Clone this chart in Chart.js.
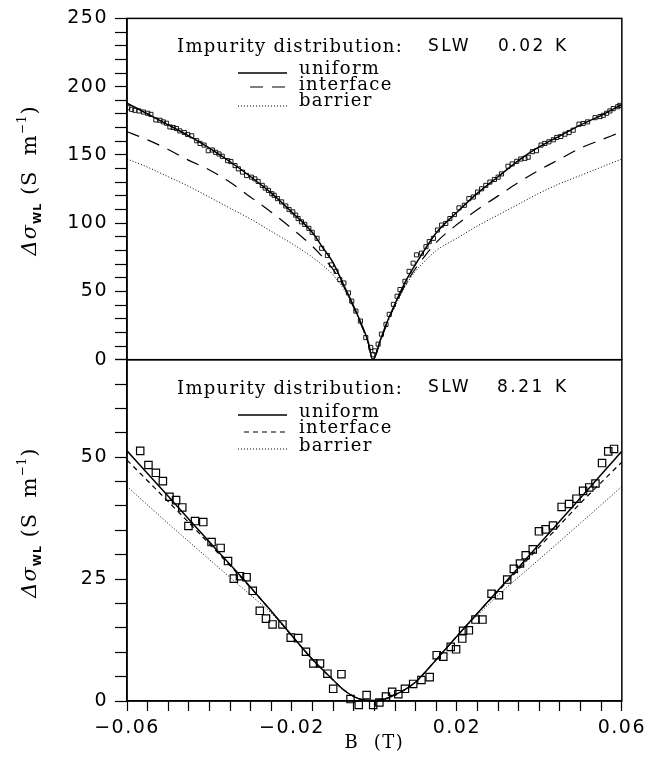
<!DOCTYPE html>
<html lang="en">
<head>
  <meta charset="UTF-8">
  <title>Weak localization magnetoconductance, SLW</title>
  <script src="https://cdn.jsdelivr.net/npm/chart.js"></script>
  <style>
    body {
      margin: 0;
      background: #fff;
    }
    #wrap {
      width: 652px;
      height: 763px;
    }
  </style>
</head>
<body>
  <div id="wrap">
    <canvas id="wl" width="652" height="763"></canvas>
  </div>

<script>
  // ---- upper panel, 0.02 K: measured points ----
  const topB = [-0.0598, -0.0589, -0.0581, -0.0571, -0.0560, -0.0550, -0.0542, -0.0530, -0.0520, -0.0512,
    -0.0504, -0.0496, -0.0488, -0.0480, -0.0472, -0.0461, -0.0453, -0.0443, -0.0431, -0.0423,
    -0.0413, -0.0403, -0.0393, -0.0385, -0.0377, -0.0369, -0.0356, -0.0348, -0.0338, -0.0330,
    -0.0320, -0.0310, -0.0298, -0.0290, -0.0282, -0.0272, -0.0265, -0.0257, -0.0249, -0.0243,
    -0.0235, -0.0225, -0.0215, -0.0207, -0.0198, -0.0191, -0.0185, -0.0177, -0.0169, -0.0159,
    -0.0151, -0.0139, -0.0128, -0.0114, -0.0104, -0.0093, -0.0084, -0.0074, -0.0063, -0.0055,
    -0.0045, -0.0034, -0.0021, -0.0009, -0.0004, 0.0001, 0.0009, 0.0017, 0.0028, 0.0036,
    0.0046, 0.0055, 0.0062, 0.0074, 0.0084, 0.0094, 0.0102, 0.0114, 0.0125, 0.0133,
    0.0143, 0.0153, 0.0163, 0.0173, 0.0183, 0.0194, 0.0205, 0.0218, 0.0229, 0.0240,
    0.0250, 0.0260, 0.0270, 0.0280, 0.0291, 0.0300, 0.0308, 0.0324, 0.0334, 0.0345,
    0.0355, 0.0365, 0.0373, 0.0383, 0.0393, 0.0404, 0.0413, 0.0423, 0.0434, 0.0442,
    0.0452, 0.0462, 0.0472, 0.0482, 0.0496, 0.0506, 0.0517, 0.0535, 0.0547, 0.0555,
    0.0563, 0.0571, 0.0579, 0.0590, 0.0595];
  const topV = [184.6, 183.4, 182.7, 182.2, 181.4, 180.5, 179.7, 175.6, 175.4, 174.2,
    173.2, 170.5, 170.1, 169.3, 167.6, 166.4, 165.0, 164.0, 160.4, 158.4,
    157.2, 153.1, 153.6, 151.9, 150.7, 149.0, 145.8, 145.1, 142.2, 139.8,
    137.4, 134.9, 133.7, 132.5, 130.6, 127.7, 125.7, 124.0, 121.6, 120.4,
    118.0, 115.6, 112.6, 110.0, 108.3, 105.9, 103.4, 101.0, 99.1, 96.2,
    93.3, 88.9, 81.6, 76.3, 69.5, 64.7, 58.6, 56.2, 48.9, 42.9,
    35.6, 28.3, 16.2, 9.0, 3.6, 6.5, 11.4, 18.7, 25.9, 33.2,
    40.5, 46.5, 51.4, 57.4, 64.7, 70.7, 76.8, 78.0, 82.8, 86.5,
    88.9, 95.0, 98.6, 99.8, 103.4, 106.3, 111.2, 113.1, 118.0, 119.2,
    122.8, 125.2, 127.7, 130.1, 132.0, 133.7, 136.1, 141.7, 143.4, 145.3,
    147.0, 147.5, 148.3, 152.4, 153.1, 157.2, 158.4, 159.6, 161.1, 162.8,
    163.5, 165.2, 166.4, 168.1, 172.5, 173.0, 174.2, 177.3, 178.1, 179.0,
    180.5, 182.2, 183.9, 185.3, 186.3];

  // upper panel model curves
  const topCurveB = [-0.06, -0.055, -0.05, -0.045, -0.04, -0.035, -0.03, -0.025, -0.02, -0.015, -0.0125,
    -0.01, -0.0075, -0.005, -0.003, -0.0015, -0.0004, 0.0015, 0.003, 0.005, 0.0075, 0.01,
    0.0125, 0.015, 0.02, 0.025, 0.03, 0.035, 0.04, 0.045, 0.05, 0.055, 0.06];
  const topUniform = [188, 180, 172, 164, 155, 145, 134, 122, 108, 93, 82,
    71, 55, 39, 25, 13, 0, 15, 27, 41, 57, 70,
    82, 93, 108, 122, 134, 146, 156, 164, 172, 179, 187];
  const topInterface = [167, 161, 154, 146, 139, 130, 119, 108, 96, 83, 75,
    66, 54, 38, 24, 12, 0, 14, 26, 40, 55, 67,
    77, 86, 99, 110, 120, 130, 139, 147, 155, 161, 167];
  const topBarrier = [147, 141, 134, 127, 119, 111, 103, 94, 85, 75, 69,
    62, 52, 38, 24, 12, 0, 14, 26, 39, 54, 65,
    73, 80, 89, 98, 106, 114, 122, 129, 135, 141, 147];

  // ---- lower panel, 8.21 K: measured points ----
  const botB = [-0.0568, -0.0548, -0.0530, -0.0513, -0.0497, -0.0481, -0.0466, -0.0451, -0.0435, -0.0415,
    -0.0395, -0.0373, -0.0355, -0.0341, -0.0326, -0.0310, -0.0295, -0.0278, -0.0263, -0.0247,
    -0.0223, -0.0203, -0.0185, -0.0166, -0.0148, -0.0132, -0.0114, -0.0100, -0.0080, -0.0058,
    -0.0038, -0.0019, -0.0003, 0.0012, 0.0028, 0.0043, 0.0058, 0.0074, 0.0094, 0.0114,
    0.0134, 0.0151, 0.0167, 0.0185, 0.0198, 0.0213, 0.0215, 0.0229, 0.0245, 0.0262,
    0.0284, 0.0302, 0.0322, 0.0338, 0.0353, 0.0367, 0.0384, 0.0399, 0.0415, 0.0433,
    0.0454, 0.0472, 0.0490, 0.0506, 0.0521, 0.0536, 0.0552, 0.0567, 0.0581];
  const botV = [51.3, 48.4, 46.8, 45.1, 41.9, 41.2, 39.7, 35.9, 36.9, 36.7,
    32.6, 31.4, 28.7, 25.1, 25.6, 25.4, 22.6, 18.5, 16.9, 15.7,
    15.7, 13.0, 12.9, 10.1, 7.7, 7.7, 5.6, 2.5, 5.5, 0.4,
    -0.8, 1.2, -0.8, -0.3, 0.9, 1.9, 1.4, 2.5, 3.5, 4.3,
    4.9, 9.4, 9.1, 11.1, 10.6, 12.8, 14.4, 14.5, 16.7, 16.7,
    22.0, 21.7, 24.9, 27.1, 28.2, 29.9, 31.1, 34.8, 35.2, 36.0,
    39.8, 40.4, 41.5, 43.1, 43.8, 44.6, 48.8, 51.2, 51.7];

  // lower panel model curves
  const botCurveB = [-0.06, -0.05, -0.04, -0.03, -0.025, -0.02, -0.015, -0.01, -0.0075, -0.005, -0.0025,
    0, 0.0025, 0.005, 0.0075, 0.01, 0.0125, 0.015, 0.02, 0.025, 0.03, 0.04, 0.05, 0.06];
  const botUniform = [51.3, 42.0, 32.6, 23.3, 18.4, 13.4, 8.5, 4.3, 2.3, 0.9, 0.2,
    0.1, 0.4, 1.3, 2.4, 3.9, 6.1, 8.5, 13.3, 18.0, 22.7, 32.2, 41.7, 51.2];
  const botInterface = [49.4, 40.9, 32.2, 23.2, 18.4, 13.4, 8.5, 4.3, 2.3, 0.9, 0.2,
    0.1, 0.4, 1.3, 2.4, 3.9, 6.1, 8.5, 13.3, 18.0, 22.5, 31.6, 40.6, 49.0];
  const botBarrier = [44.0, 36.4, 29.0, 21.7, 18.0, 13.3, 8.5, 4.3, 2.3, 0.9, 0.2,
    0.1, 0.4, 1.3, 2.4, 3.9, 6.1, 8.5, 13.2, 17.6, 21.7, 29.1, 36.5, 44.0];

  const xMajor = [-0.06, -0.02, 0.02, 0.06];

  const pts = (xs, ys) => xs.map((x, i) => ({ x: x, y: ys[i] }));

  const serif = '"DejaVu Serif", serif';
  const sans = '"DejaVu Sans", sans-serif';

  // Chart.js resets the context on resize, so put the letter spacing back each time
  const spacing = {
    id: 'spacing',
    beforeUpdate(chart) { chart.ctx.letterSpacing = '1.5px'; },
    beforeDraw(chart) { chart.ctx.letterSpacing = '1.5px'; }
  };

  function seg(ctx, x1, x2, y, dash, w) {
    ctx.beginPath();
    ctx.setLineDash(dash);
    ctx.lineWidth = w;
    ctx.moveTo(x1, y);
    ctx.lineTo(x2, y);
    ctx.stroke();
  }

  function word(ctx, s, x, y, font, ls) {
    ctx.font = font;
    ctx.letterSpacing = ls;
    ctx.fillText(s, x, y);
  }

  // Δσ_WL (S m^-1), rotated
  function yTitle(ctx, cx, cy) {
    const parts = [
      { t: 'Δσ', f: 'italic 21px ' + serif, dy: 0 },
      { t: 'WL', f: 'bold 11px ' + sans, dy: 5 },
      { t: ' (S  m', f: '21px ' + serif, dy: 0 },
      { t: '−1', f: '12px ' + serif, dy: -10 },
      { t: ')', f: '21px ' + serif, dy: 0 }
    ];
    ctx.save();
    ctx.translate(cx, cy);
    ctx.rotate(-Math.PI / 2);
    ctx.textAlign = 'left';
    ctx.textBaseline = 'alphabetic';
    ctx.letterSpacing = '1px';
    let total = 0;
    parts.forEach(p => { ctx.font = p.f; p.w = ctx.measureText(p.t).width; total += p.w; });
    let x = -total / 2;
    parts.forEach(p => { ctx.font = p.f; ctx.fillText(p.t, x, 7 + p.dy); x += p.w; });
    ctx.restore();
  }

  const decor = {
    id: 'decor',
    afterDatasetsDraw(chart) {
      const ctx = chart.ctx;
      const { left, right } = chart.chartArea;
      const yT = chart.scales.yTop;
      const yB = chart.scales.yBot;

      ctx.save();
      ctx.strokeStyle = '#000';
      ctx.fillStyle = '#000';
      ctx.lineWidth = 1.5;
      ctx.setLineDash([]);
      ctx.strokeRect(left, yT.top, right - left, yT.bottom - yT.top);
      ctx.strokeRect(left, yB.top, right - left, yB.bottom - yB.top);

      ctx.textAlign = 'left';
      ctx.textBaseline = 'middle';
      const f = '18px ' + serif;
      const fs = '17px ' + sans;

      // upper panel labels
      word(ctx, 'Impurity distribution:', 177, 47, f, '1.3px');
      word(ctx, 'SLW', 428, 47, fs, '2.5px');
      word(ctx, '0.02', 498, 47, fs, '2.5px');
      word(ctx, 'K', 555, 47, fs, '2.5px');
      word(ctx, 'uniform', 299, 69, f, '1.3px');
      word(ctx, 'interface', 299, 85, f, '1.3px');
      word(ctx, 'barrier', 299, 101, f, '1.3px');
      seg(ctx, 238, 287, 73, [], 1.4);
      seg(ctx, 250, 287, 87, [13, 9], 1.2);
      seg(ctx, 238, 287, 106, [1, 2], 1);

      // lower panel labels
      ctx.setLineDash([]);
      word(ctx, 'Impurity distribution:', 177, 389, f, '1.3px');
      word(ctx, 'SLW', 428, 388, fs, '2.5px');
      word(ctx, '8.21', 497, 388, fs, '2.5px');
      word(ctx, 'K', 555, 388, fs, '2.5px');
      word(ctx, 'uniform', 299, 412, f, '1.3px');
      word(ctx, 'interface', 299, 428, f, '1.3px');
      word(ctx, 'barrier', 299, 446, f, '1.3px');
      seg(ctx, 238, 287, 415, [], 1.4);
      seg(ctx, 244, 287, 432, [5, 4], 1.2);
      seg(ctx, 238, 287, 449, [1, 2], 1);

      ctx.setLineDash([]);
      yTitle(ctx, 29, yT.top + 162);
      yTitle(ctx, 29, yB.top + 163);
      ctx.restore();
    }
  };

  const axisFont = { family: sans, size: 19 };

  new Chart(document.getElementById('wl').getContext('2d'), {
    type: 'scatter',
    data: {
      datasets: [
        { data: pts(topB, topV), yAxisID: 'yTop', pointStyle: 'rect', pointRadius: 2.9,
          borderColor: '#000', backgroundColor: 'rgba(0,0,0,0)', borderWidth: 0.9 },
        { data: pts(topCurveB, topUniform), yAxisID: 'yTop', showLine: true, pointRadius: 0,
          borderColor: '#000', borderWidth: 1.5, cubicInterpolationMode: 'monotone' },
        { data: pts(topCurveB, topInterface), yAxisID: 'yTop', showLine: true, pointRadius: 0,
          borderColor: '#000', borderWidth: 1.2, borderDash: [13, 9], cubicInterpolationMode: 'monotone' },
        { data: pts(topCurveB, topBarrier), yAxisID: 'yTop', showLine: true, pointRadius: 0,
          borderColor: '#000', borderWidth: 1, borderDash: [1, 2], cubicInterpolationMode: 'monotone' },

        { data: pts(botB, botV), yAxisID: 'yBot', pointStyle: 'rect', pointRadius: 5.2, clip: false,
          borderColor: '#000', backgroundColor: 'rgba(0,0,0,0)', borderWidth: 1.2 },
        { data: pts(botCurveB, botUniform), yAxisID: 'yBot', showLine: true, pointRadius: 0,
          borderColor: '#000', borderWidth: 1.5, cubicInterpolationMode: 'monotone' },
        { data: pts(botCurveB, botInterface), yAxisID: 'yBot', showLine: true, pointRadius: 0,
          borderColor: '#000', borderWidth: 1.2, borderDash: [5, 4], cubicInterpolationMode: 'monotone' },
        { data: pts(botCurveB, botBarrier), yAxisID: 'yBot', showLine: true, pointRadius: 0,
          borderColor: '#000', borderWidth: 1, borderDash: [1, 2], cubicInterpolationMode: 'monotone' }
      ]
    },
    options: {
      responsive: false,
      animation: false,
      devicePixelRatio: 1,
      layout: { padding: { left: 0, top: 15, right: 30, bottom: 0 } },
      plugins: { legend: { display: false }, tooltip: { enabled: false } },
      scales: {
        x: {
          type: 'linear',
          position: 'bottom',
          min: -0.06,
          max: 0.06,
          afterFit: s => { s.height = 62; },
          ticks: {
            stepSize: 0.005,
            autoSkip: false,
            maxRotation: 0,
            padding: 6,
            color: '#000',
            font: axisFont,
            callback: v => xMajor.some(m => Math.abs(m - v) < 1e-9)
              ? (v < 0 ? '−' : '') + Math.abs(v).toFixed(2) : ''
          },
          grid: { drawOnChartArea: false, tickLength: 10, color: '#000', tickWidth: 1.2 },
          border: { color: '#000', width: 1.5 },
          title: { display: true, text: 'B  (T)', color: '#000',
            font: { family: serif, size: 18 }, padding: { top: 0, bottom: 9 } }
        },
        yBot: {
          type: 'linear',
          position: 'left',
          stack: 'panels',
          stackWeight: 1,
          min: 0,
          max: 70,
          afterFit: s => { s.width = 127; },
          ticks: {
            stepSize: 5,
            autoSkip: false,
            padding: 7,
            color: '#000',
            font: axisFont,
            callback: v => (v % 25 === 0 ? String(v) : '')
          },
          grid: { drawOnChartArea: false, tickLength: 12, color: '#000', tickWidth: 1.2 },
          border: { color: '#000', width: 1.5 }
        },
        yTop: {
          type: 'linear',
          position: 'left',
          stack: 'panels',
          stackWeight: 1,
          min: 0,
          max: 250,
          afterFit: s => { s.width = 127; },
          ticks: {
            stepSize: 10,
            autoSkip: false,
            padding: 7,
            color: '#000',
            font: axisFont,
            callback: v => (v % 50 === 0 ? String(v) : '')
          },
          grid: { drawOnChartArea: false, tickLength: 12, color: '#000', tickWidth: 1.2 },
          border: { color: '#000', width: 1.5 }
        }
      }
    },
    plugins: [spacing, decor]
  });
</script>
</body>
</html>
